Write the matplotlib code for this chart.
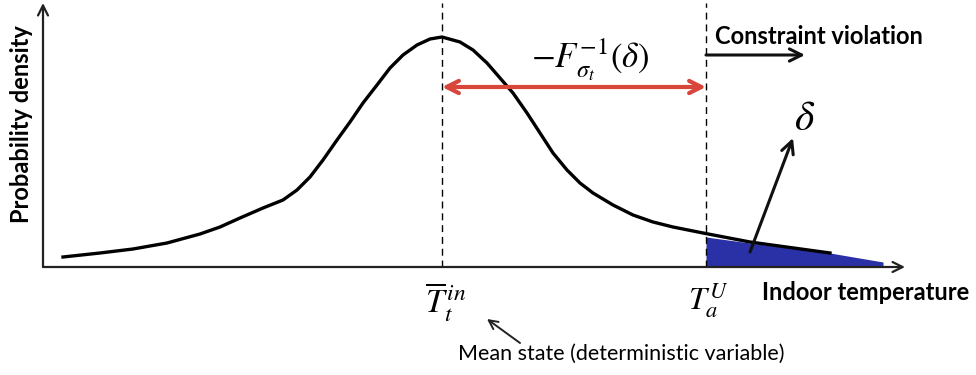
import matplotlib
matplotlib.use("Agg")
import matplotlib.pyplot as plt

plt.rcParams['mathtext.fontset'] = 'stix'

# density curve (arbitrary temperature units, arbitrary density units)
temp = [20, 57, 90, 124, 157, 177, 197, 220, 240, 254, 267, 280, 294, 307,
        320, 334, 347, 360, 374, 387, 399, 417, 430, 444, 457, 470, 484, 497,
        510, 524, 537, 550, 570, 590, 610, 630, 660, 707, 787]
dens = [10, 14, 18, 24, 33, 40, 49, 59, 67, 77, 90, 107, 127, 145,
        164, 182, 199, 212, 222, 228, 230, 225, 217, 204, 189, 174, 154, 134,
        114, 97, 84, 74, 62, 52, 45, 40, 34, 25, 14]

t_mean = 399      # mean state
t_upper = 663     # upper comfort bound T_a^U

# violation area beyond the bound
viol_t = [663, 707, 787, 840]
viol_top = [30, 24, 14, 5]

BLUE = '#2a31a6'
RED = '#d8453b'
SANS = 'Lato'

fig = plt.figure(figsize=(9.76, 3.75), dpi=100)
ax = fig.add_axes([43 / 976, 108 / 375, 862 / 976, 264 / 375])
ax.set_xlim(0, 862)
ax.set_ylim(0, 264)
ax.axis('off')

# axes with arrow heads
ax.annotate('', xy=(1, 0), xytext=(0, 0), xycoords='axes fraction',
            arrowprops=dict(arrowstyle='->', lw=1.6, color='#222222',
                            mutation_scale=18, shrinkA=0, shrinkB=0))
ax.annotate('', xy=(0, 1), xytext=(0, 0), xycoords='axes fraction',
            arrowprops=dict(arrowstyle='->', lw=1.6, color='#222222',
                            mutation_scale=18, shrinkA=0, shrinkB=0))

ax.fill_between(viol_t, 0, viol_top, color=BLUE, lw=0)
ax.plot(temp, dens, color='black', lw=2.4, solid_joinstyle='round')

for t in (t_mean, t_upper):
    ax.plot([t, t], [0, 264], color='black', lw=1.0, ls=(0, (5, 3.5)))

# quantile distance between mean and bound
ax.annotate('', xy=(t_upper, 180), xytext=(t_mean, 180),
            arrowprops=dict(arrowstyle='<->', lw=3, color=RED,
                            mutation_scale=22, shrinkA=0, shrinkB=0))
ax.text((t_mean + t_upper) / 2 + 16, 207,
        r'$-F_{\sigma_t}^{-1}\left(\delta\right)$',
        fontsize=25, ha='center', va='center')

ax.annotate('', xy=(762, 212), xytext=(t_upper, 212),
            arrowprops=dict(arrowstyle='->', lw=2.2, color='#111111',
                            mutation_scale=22, shrinkA=0, shrinkB=0))
ax.text(672, 230, 'Constraint violation', fontsize=17, fontweight='bold',
        family=SANS, ha='left', va='center')

ax.annotate('', xy=(750, 129), xytext=(707, 15),
            arrowprops=dict(arrowstyle='->', lw=2.2, color='#111111',
                            mutation_scale=22, shrinkA=0, shrinkB=0))
ax.text(762, 149, r'$\delta$', fontsize=30, ha='center', va='center')

ax.text(t_mean + 4, -14, r'$\overline{T}_t^{\,in}$', fontsize=24,
        ha='center', va='top', clip_on=False)
ax.text(t_upper + 2, -14, r'$T_a^{U}$', fontsize=23,
        ha='center', va='top', clip_on=False)
ax.text(719, -25, 'Indoor temperature', fontsize=17, fontweight='bold',
        family=SANS, ha='left', va='center', clip_on=False)
ax.text(-21, 143, 'Probability density', fontsize=17, fontweight='bold',
        family=SANS, rotation=90, ha='center', va='center', clip_on=False)

ax.annotate('', xy=(444, -52), xytext=(477, -76), annotation_clip=False,
            arrowprops=dict(arrowstyle='->', lw=1.4, color='#222222',
                            mutation_scale=16, shrinkA=0, shrinkB=0))
ax.text(415, -87, 'Mean state (deterministic variable)', fontsize=15.5,
        family=SANS, ha='left', va='center', clip_on=False)

fig.savefig('out.png', dpi=100)
